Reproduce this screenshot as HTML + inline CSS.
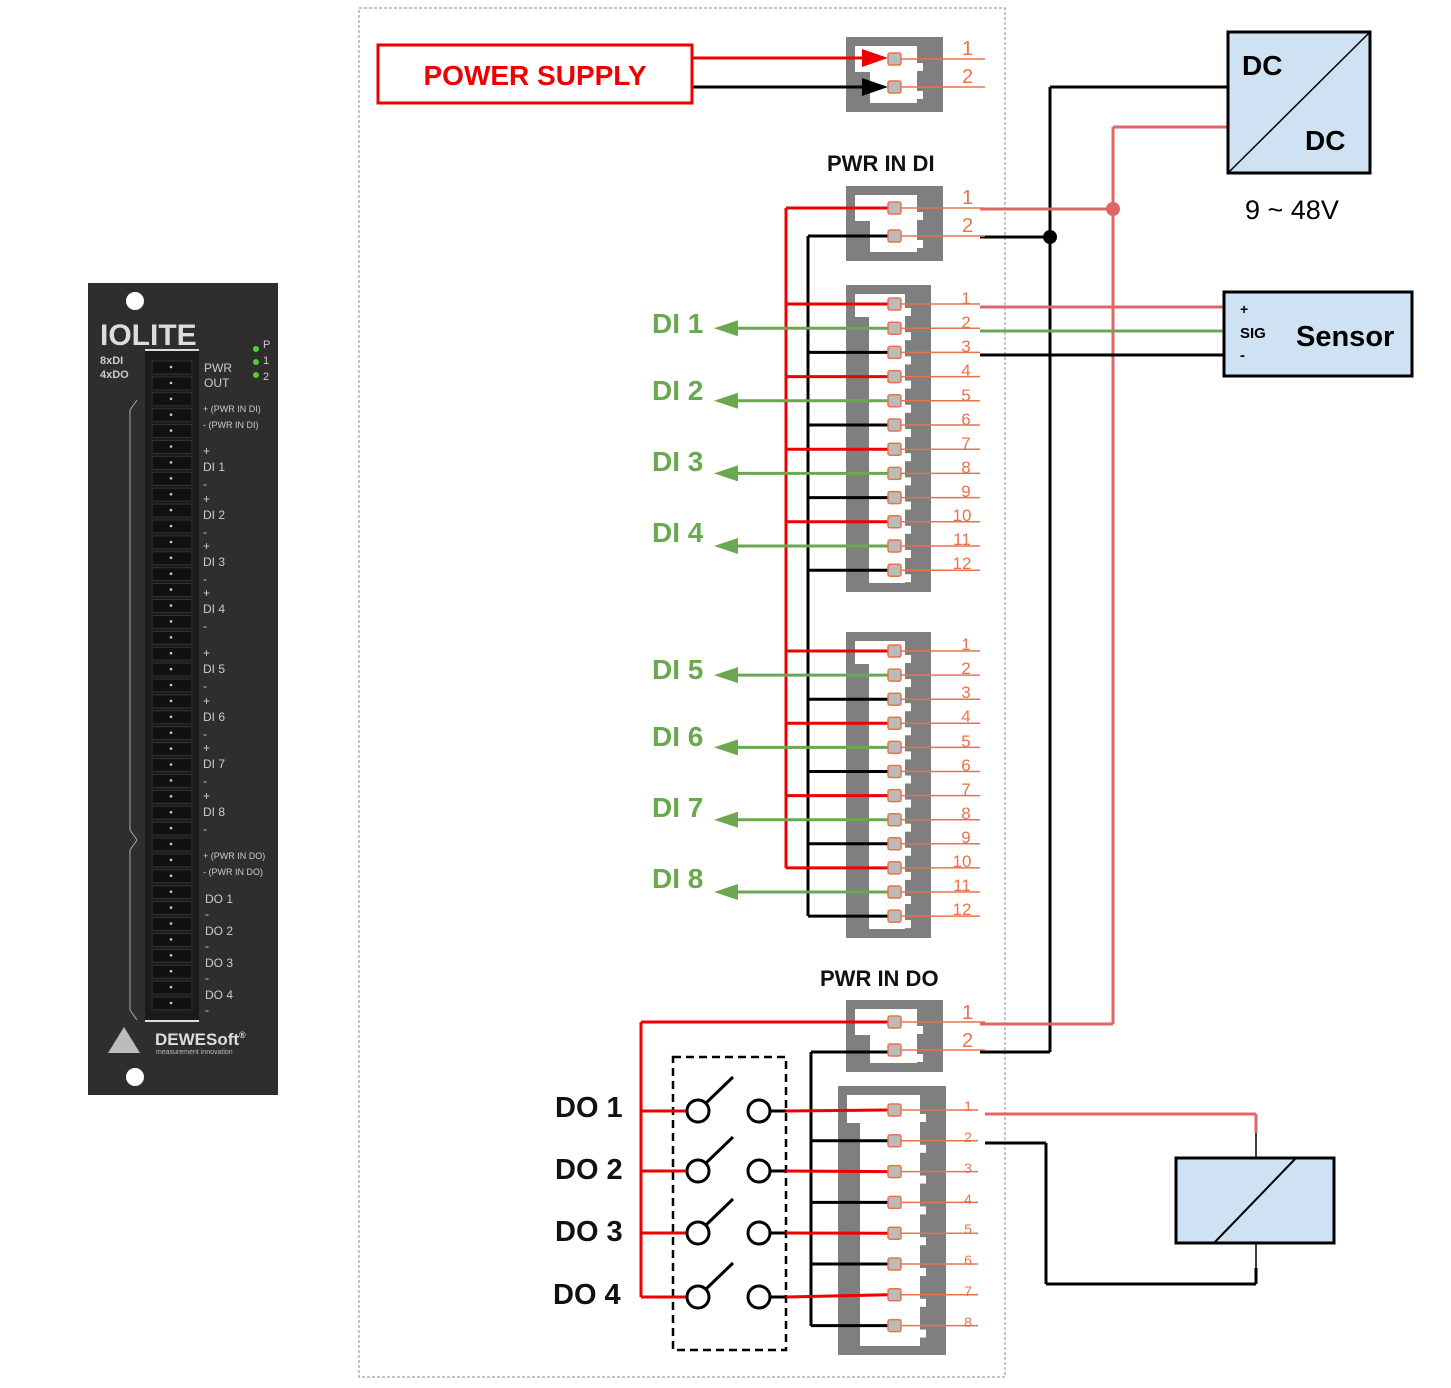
<!DOCTYPE html>
<html><head><meta charset="utf-8"><style>
html,body{margin:0;padding:0;background:#fff;}
svg{display:block;font-family:"Liberation Sans",Arial,sans-serif;}
</style></head><body>
<svg id="s" width="1451" height="1388" viewBox="0 0 1451 1388" xmlns="http://www.w3.org/2000/svg">
<rect x="359" y="8" width="646" height="1369" fill="none" stroke="#888" stroke-width="1" stroke-dasharray="3,2"/>
<!-- left panel -->
<rect x="88" y="283" width="190" height="812" fill="#2e2e2e"/>
<circle cx="135" cy="301" r="9" fill="#fff"/>
<circle cx="135" cy="1077" r="9" fill="#fff"/>
<text x="100" y="345" font-size="30" font-weight="bold" fill="#ddd">IOLITE</text>
<text x="100" y="364" font-size="11" font-weight="bold" fill="#ccc">8xDI</text>
<text x="100" y="378" font-size="11" font-weight="bold" fill="#ccc">4xDO</text>
<circle cx="256" cy="349" r="3" fill="#5c3"/><circle cx="256" cy="362" r="3" fill="#5c3"/><circle cx="256" cy="375" r="3" fill="#5c3"/>
<text x="263" y="348" font-size="11" fill="#ccc">P</text><text x="263" y="364" font-size="11" fill="#ccc">1</text><text x="263" y="380" font-size="11" fill="#ccc">2</text>
<rect x="145" y="350" width="54" height="672" fill="#1a1a1a"/>
<line x1="145" y1="350" x2="199" y2="350" stroke="#ddd" stroke-width="2"/>
<line x1="145" y1="1021" x2="199" y2="1021" stroke="#ddd" stroke-width="2"/>
<g id="lp"></g>
<path d="M137,400 L130,410 L130,830 L137,840 L130,850 L130,1010 L137,1020" fill="none" stroke="#aaa" stroke-width="1"/>
<g font-size="12" fill="#ccc">
<text x="204" y="372">PWR</text><text x="204" y="387">OUT</text>
<text x="203" y="412" font-size="9">+ (PWR IN DI)</text><text x="203" y="428" font-size="9">- (PWR IN DI)</text>
<text x="203" y="455">+</text><text x="203" y="471">DI 1</text><text x="203" y="488">-</text>
<text x="203" y="503">+</text><text x="203" y="519">DI 2</text><text x="203" y="536">-</text>
<text x="203" y="550">+</text><text x="203" y="566">DI 3</text><text x="203" y="583">-</text>
<text x="203" y="597">+</text><text x="203" y="613">DI 4</text><text x="203" y="630">-</text>
<text x="203" y="657">+</text><text x="203" y="673">DI 5</text><text x="203" y="690">-</text>
<text x="203" y="705">+</text><text x="203" y="721">DI 6</text><text x="203" y="738">-</text>
<text x="203" y="752">+</text><text x="203" y="768">DI 7</text><text x="203" y="785">-</text>
<text x="203" y="800">+</text><text x="203" y="816">DI 8</text><text x="203" y="833">-</text>
<text x="203" y="859" font-size="9">+ (PWR IN DO)</text><text x="203" y="875" font-size="9">- (PWR IN DO)</text>
<text x="205" y="903">DO 1</text><text x="205" y="918">-</text>
<text x="205" y="935">DO 2</text><text x="205" y="950">-</text>
<text x="205" y="967">DO 3</text><text x="205" y="982">-</text>
<text x="205" y="999">DO 4</text><text x="205" y="1014">-</text>
</g>
<path d="M124,1027 L108,1053 L140,1053 z" fill="#bbb"/>
<text x="155" y="1045" font-size="17" font-weight="bold" fill="#ddd">DEWESoft<tspan font-size="9" dy="-7">®</tspan></text>
<text x="156" y="1054" font-size="7" fill="#bbb">measurement innovation</text>
<g id="shapes"></g>

<!-- power supply -->
<rect x="378" y="45" width="314" height="58" fill="#fff" stroke="#e00" stroke-width="3"/>
<text x="535" y="85" font-size="28" font-weight="bold" fill="#e00" text-anchor="middle">POWER SUPPLY</text>

<g font-weight="bold" font-size="22" fill="#111">
<text x="827" y="171">PWR IN DI</text>
<text x="820" y="986">PWR IN DO</text>
</g>
<g font-weight="bold" font-size="28" fill="#6aa84f">
<text x="652" y="333">DI 1</text><text x="652" y="400">DI 2</text><text x="652" y="471">DI 3</text><text x="652" y="542">DI 4</text>
<text x="652" y="679">DI 5</text><text x="652" y="746">DI 6</text><text x="652" y="817">DI 7</text><text x="652" y="888">DI 8</text>
</g>
<g font-weight="bold" font-size="29" fill="#111">
<text x="555" y="1117">DO 1</text><text x="555" y="1179">DO 2</text><text x="555" y="1241">DO 3</text><text x="553" y="1304">DO 4</text>
</g>
<g fill="#e8734a" font-size="20">
<text x="962" y="55">1</text><text x="962" y="83">2</text>
<text x="962" y="204">1</text><text x="962" y="232">2</text>
<text x="962" y="1019">1</text><text x="962" y="1047">2</text>
</g>
<g fill="#e8734a" font-size="17" text-anchor="middle">
<text x="966" y="304">1</text><text x="966" y="328">2</text><text x="966" y="352">3</text><text x="966" y="376">4</text><text x="966" y="401">5</text><text x="966" y="425">6</text><text x="966" y="449">7</text><text x="966" y="473">8</text><text x="966" y="497">9</text><text x="962" y="521">10</text><text x="962" y="545">11</text><text x="962" y="569">12</text>
<text x="966" y="650">1</text><text x="966" y="674">2</text><text x="966" y="698">3</text><text x="966" y="722">4</text><text x="966" y="747">5</text><text x="966" y="771">6</text><text x="966" y="795">7</text><text x="966" y="819">8</text><text x="966" y="843">9</text><text x="962" y="867">10</text><text x="962" y="891">11</text><text x="962" y="915">12</text>
<text x="968" y="1111" font-size="14">1</text><text x="968" y="1142" font-size="14">2</text><text x="968" y="1173" font-size="14">3</text><text x="968" y="1204" font-size="14">4</text><text x="968" y="1234" font-size="14">5</text><text x="968" y="1265" font-size="14">6</text><text x="968" y="1296" font-size="14">7</text><text x="968" y="1327" font-size="14">8</text>
</g>
<rect x="1228" y="32" width="142" height="141" fill="#cfe2f3" stroke="#000" stroke-width="3"/>
<line x1="1228" y1="173" x2="1370" y2="32" stroke="#000" stroke-width="1.5"/>
<text x="1242" y="75" font-size="28" font-weight="bold">DC</text>
<text x="1305" y="150" font-size="28" font-weight="bold">DC</text>
<text x="1245" y="219" font-size="27">9 ~ 48V</text>
<rect x="1224" y="292" width="188" height="84" fill="#cfe2f3" stroke="#000" stroke-width="3"/>
<text x="1240" y="314" font-size="14" font-weight="bold">+</text>
<text x="1240" y="338" font-size="15" font-weight="bold">SIG</text>
<text x="1240" y="360" font-size="15" font-weight="bold">-</text>
<text x="1296" y="346" font-size="29" font-weight="bold">Sensor</text>
<rect x="1176" y="1158" width="158" height="85" fill="#cfe2f3" stroke="#000" stroke-width="3"/>
<line x1="1214" y1="1243" x2="1296" y2="1158" stroke="#000" stroke-width="2"/>
</svg>
<script>
const NS='http://www.w3.org/2000/svg';
let g=document.getElementById('lp');
function el(t,a){const e=document.createElementNS(NS,t);for(const k in a)e.setAttribute(k,a[k]);g.appendChild(e);return e;}
// left panel connector dots
for(let y=367;y<1015;y+=15.9){el('rect',{x:152,y:y-6,width:40,height:13,fill:'#111',stroke:'#333','stroke-width':1});el('circle',{cx:171,cy:y,r:1.3,fill:'#ccc'});}
g=document.getElementById('shapes');
function L(x1,y1,x2,y2,c,w){el('line',{x1,y1,x2,y2,stroke:c,'stroke-width':w||3});}
const R='#e00',K='#000',P='#e06666',G='#6aa84f',O='#e8734a';
function conn(x1,x2,y1,y2,pins,inL){
 el('rect',{x:x1,y:y1,width:x2-x1,height:y2-y1,fill:'#7f7f7f'});
 el('rect',{x:inL,y:y1+9,width:x2-14-inL,height:y2-y1-18,fill:'#fff'});
 el('rect',{x:x1+9,y:y1+9,width:inL-x1-9,height:(pins[0]-y1+4),fill:'#fff'});
 el('rect',{x:x2-26,y:y1+9,width:12,height:y2-y1-18,fill:'#7f7f7f'});
 pins.forEach(p=>{el('rect',{x:x2-26,y:p+4,width:6,height:8,fill:'#fff'});});
}
function pinsq(y,xe){L(895,y,xe||985,y,O,1.5);el('rect',{x:888,y:y-6,width:13,height:12,rx:2,fill:'#bbb',stroke:O,'stroke-width':1.5});}
conn(846,943,37,112,[59,87],870);
conn(846,943,186,261,[208,236],870);
conn(846,943,1000,1072,[1022,1050],870);
const A=[],B=[],D=[];
for(let i=0;i<12;i++){A.push(304+i*24.2);B.push(651+i*24.1);}
for(let i=0;i<8;i++)D.push(1110+i*30.8);
conn(846,931,285,592,A,869);conn(846,931,632,938,B,869);conn(838,946,1086,1355,D,860);
L(692,58,880,58,R,3);el('path',{d:'M862,49 L888,58 L862,67z',fill:R});
L(692,87,880,87,K,3);el('path',{d:'M862,78 L888,87 L862,96z',fill:K});
L(786,208,786,868,R,3);L(808,236,808,916,K,3);
L(786,208,888,208,R,3);L(808,236,888,236,K,3);
[A,B].forEach(arr=>arr.forEach((y,i)=>{const m=i%3;
 if(m==0)L(786,y,888,y,R,3);else if(m==2)L(808,y,888,y,K,3);
 else{L(725,y,888,y,G,3);el('path',{d:`M714,${y} L738,${y-8} L738,${y+8}z`,fill:G});}}));
L(1050,87,1228,87,K,3);L(1050,87,1050,1052,K,3);
L(1113,127,1228,127,P,3);L(1113,127,1113,1024,P,3);
L(980,209,1113,209,P,3);L(980,237,1050,237,K,3);
el('circle',{cx:1050,cy:237,r:7,fill:K});el('circle',{cx:1113,cy:209,r:7,fill:P});
L(980,1024,1113,1024,P,3);L(980,1052,1050,1052,K,3);
L(980,307,1224,307,P,3);L(980,331,1224,331,G,3);L(980,355,1224,355,K,3);
L(641,1022,888,1022,R,3);L(641,1022,641,1297,R,3);L(811,1052,888,1052,K,3);L(811,1052,811,1326,K,3);
el('rect',{x:673,y:1057,width:113,height:293,fill:'none',stroke:K,'stroke-width':2.5,'stroke-dasharray':'8,5'});
[D[0],D[2],D[4],D[6]].forEach((y,i)=>{const yy=[1111,1171,1233,1297][i];
 L(641,yy,687,yy,R,3);el('circle',{cx:698,cy:yy,r:11,fill:'#fff',stroke:K,'stroke-width':3});
 L(706,yy-8,733,yy-34,K,3);el('circle',{cx:759,cy:yy,r:11,fill:'#fff',stroke:K,'stroke-width':3});
 L(770,yy,786,yy,K,3);L(786,yy,888,y,R,3);});
[D[1],D[3],D[5],D[7]].forEach(y=>L(811,y,888,y,K,3));
L(985,1114,1256,1114,P,3);L(1256,1114,1256,1133,P,3);L(1256,1133,1256,1158,K,1.5);
L(985,1143,1046,1143,K,3);L(1046,1143,1046,1284,K,3);L(1046,1284,1256,1284,K,3);L(1256,1284,1256,1268,K,3);L(1256,1268,1256,1243,K,1.5);
[59,87,208,236,1022,1050].forEach(y=>pinsq(y));
A.forEach(y=>pinsq(y,980));B.forEach(y=>pinsq(y,980));D.forEach(y=>pinsq(y,978));
</script>
</body></html>
